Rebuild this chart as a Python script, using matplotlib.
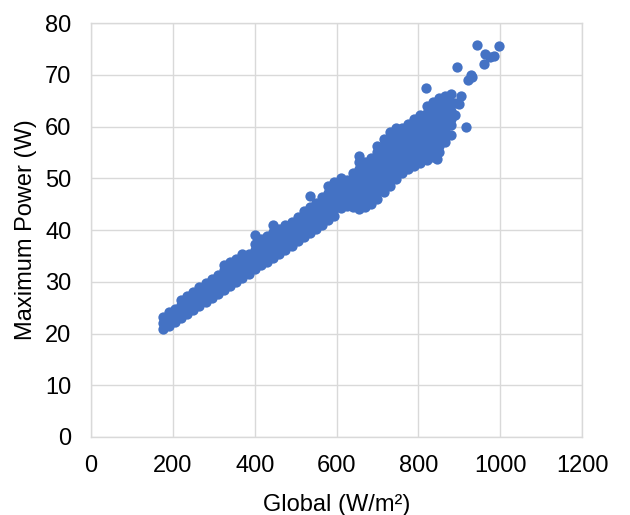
import matplotlib
matplotlib.use('Agg')
import matplotlib.pyplot as plt

plt.rcParams['font.family'] = ['Liberation Sans', 'DejaVu Sans']

# ── Data: (global irradiance, max power values at it) ──
columns = [
    (175, [20.8, 22, 23.2]),
    (190, [21.5, 22.8, 24.2]),
    (205, [22.3, 23.6, 24.8]),
    (220, [23, 24.3, 25.6, 26.5]),
    (235, [23.7, 25, 26.3, 27.2]),
    (250, [24.5, 25.8, 27, 28]),
    (265, [25.3, 26.6, 27.9, 29]),
    (280, [26, 27.3, 28.6, 29.8]),
    (295, [26.8, 28.1, 29.4, 30.5]),
    (310, [27.6, 28.9, 30.2, 31.3]),
    (325, [28.4, 29.7, 31, 32.3, 33.2]),
    (340, [29.2, 30.5, 31.8, 33.1, 33.9]),
    (355, [30, 31.3, 32.6, 33.8, 34.5]),
    (370, [30.8, 32, 33.3, 34.6, 35.3]),
    (385, [31.6, 32.8, 34.1, 35.3]),
    (400, [32.4, 33.6, 34.9, 36.1, 37.4, 39]),
    (415, [33.2, 34.4, 35.7, 37, 38.2]),
    (430, [33.9, 35.2, 36.5, 37.8, 38.8]),
    (445, [34.6, 35.9, 37.2, 38.5, 39.6, 41]),
    (460, [35.4, 36.7, 38, 39.3, 40.3]),
    (475, [36.2, 37.5, 38.8, 40.1, 41]),
    (490, [37, 38.3, 39.6, 40.9, 41.6]),
    (505, [37.8, 39.1, 40.4, 41.7, 42.5]),
    (520, [38.6, 39.9, 41.2, 42.5, 43.6]),
    (535, [39.4, 40.7, 42, 43.3, 44.5, 46.5]),
    (550, [40.2, 41.5, 42.8, 44.1, 45.3]),
    (565, [41, 42.3, 43.6, 44.9, 46.3]),
    (580, [41.9, 43.2, 44.5, 45.8, 47.2, 48.5]),
    (595, [42.8, 44.1, 45.4, 46.7, 48, 49.3]),
    (610, [44.2, 45.4, 46.6, 47.9, 49.2, 50]),
    (625, [44.6, 45.8, 47.1, 48.4, 49.6]),
    (640, [44.4, 45.7, 47, 48.3, 49.6, 51]),
    (655, [44, 45.3, 46.6, 47.9, 49.2, 50.5, 51.8, 53.2, 54.3]),
    (670, [44.4, 45.7, 47, 48.3, 49.6, 50.9, 52.2, 53.2]),
    (685, [45, 46.3, 47.6, 48.9, 50.2, 51.5, 52.8, 54]),
    (700, [46, 47.3, 48.6, 49.9, 51.2, 52.5, 53.8, 55.1, 56.3]),
    (715, [47.3, 48.6, 49.9, 51.2, 52.5, 53.8, 55.1, 56.4, 57.6]),
    (730, [48.6, 49.9, 51.2, 52.5, 53.8, 55.1, 56.4, 57.7, 59]),
    (745, [49.8, 51.1, 52.4, 53.7, 55, 56.3, 57.6, 58.9, 59.8]),
    (760, [51, 52.3, 53.6, 54.9, 56.2, 57.5, 58.8, 59.8]),
    (775, [51.8, 53.1, 54.4, 55.7, 57, 58.3, 59.6, 60.6]),
    (790, [52.4, 53.7, 55, 56.3, 57.6, 58.9, 60.2, 61.5]),
    (805, [53, 54.3, 55.6, 56.9, 58.2, 59.5, 60.8, 62.2]),
    (820, [53.6, 54.9, 56.2, 57.5, 58.8, 60.1, 61.4, 62.7, 64]),
    (835, [54.2, 55.5, 56.8, 58.1, 59.4, 60.7, 62, 63.3, 64.8]),
    (850, [55, 56.3, 57.6, 58.9, 60.2, 61.5, 62.8, 64.1, 65.5]),
    (865, [57, 58.3, 59.6, 60.9, 62.2, 63.5, 64.8, 66]),
    (880, [58.3, 60.3, 61.5, 63, 64.5, 66.3]),
    (890, [62.3, 64.5]),
]

# scattered points away from the main band
outlier_x = [818, 895, 916, 944, 997, 960, 984, 975, 928, 920, 899, 846, 932, 962, 905]
outlier_y = [67.5, 71.5, 60, 75.8, 75.5, 72.2, 73.6, 73.5, 70, 69, 64.4, 53.8, 69.5, 74, 66]

x_vals = [x for x, ys in columns for _ in ys] + outlier_x
y_vals = [y for _, ys in columns for y in ys] + outlier_y

X_TICKS = [0, 200, 400, 600, 800, 1000, 1200]
Y_TICKS = [0, 10, 20, 30, 40, 50, 60, 70, 80]

# ── Plot ─────────────────────────────────────────────────────────────────────
fig = plt.figure(figsize=(6.3, 5.15), dpi=100)
ax = fig.add_axes([0.1444, 0.1515, 0.7796, 0.8035])

ax.scatter(x_vals, y_vals, s=55, color='#4472C4', linewidths=0, zorder=3)

ax.set_xlim(0, 1200)
ax.set_ylim(0, 80)
ax.set_xticks(X_TICKS)
ax.set_yticks(Y_TICKS)
ax.grid(True, color='#d9d9d9', linewidth=1.0, zorder=0)
ax.set_axisbelow(True)
for sp in ax.spines.values():
    sp.set_color('#d9d9d9')
    sp.set_linewidth(1.0)

ax.tick_params(axis='both', length=0, labelsize=17, colors='#000000')
ax.tick_params(axis='y', pad=14)
ax.tick_params(axis='x', pad=13)

ax.set_xlabel('Global (W/m²)', fontsize=17, labelpad=12, color='#000000')
ax.set_ylabel('Maximum Power (W)', fontsize=17, labelpad=6, color='#000000')

fig.savefig('out.png', dpi=100)
